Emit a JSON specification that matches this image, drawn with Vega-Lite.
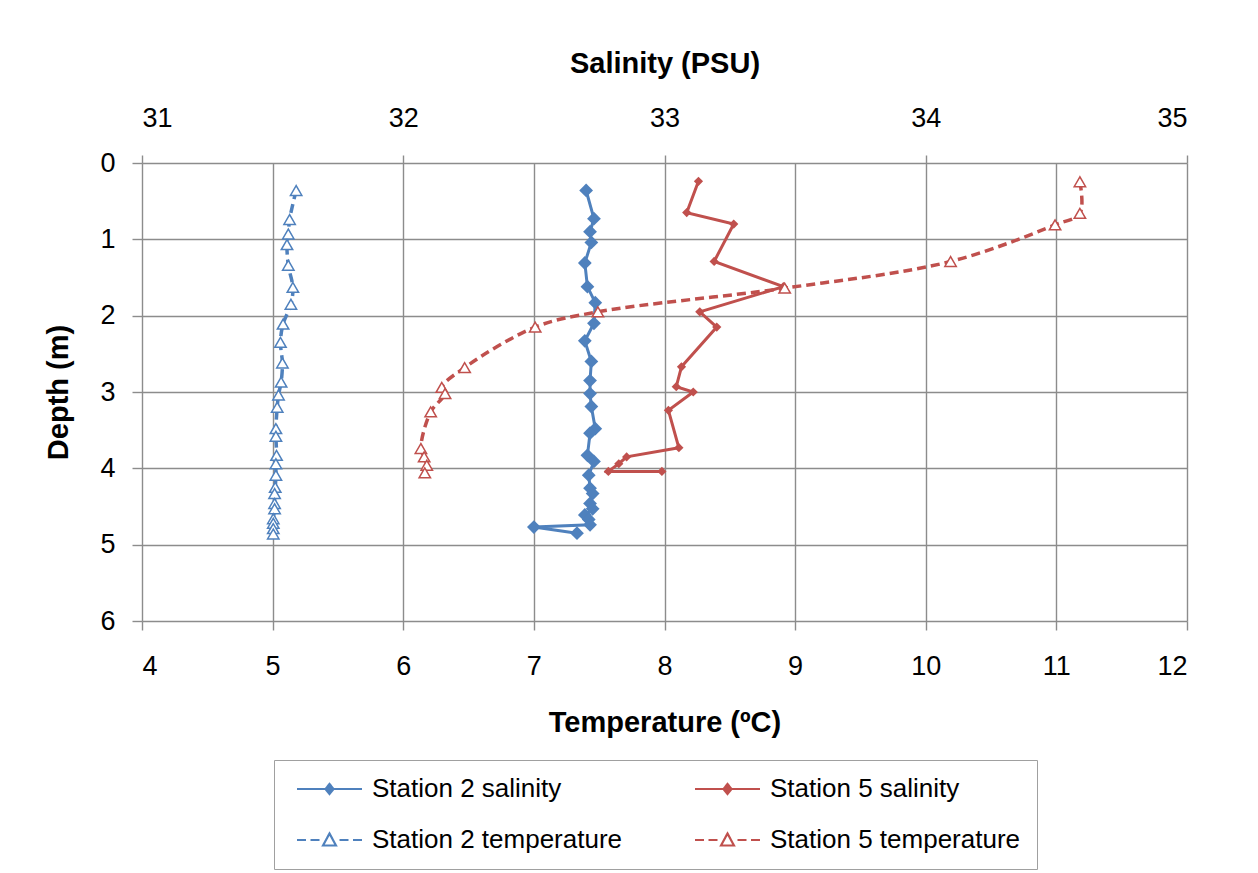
{
  "$schema": "https://vega.github.io/schema/vega-lite/v6.json",
  "width": 1045,
  "height": 458,
  "autosize": {"type": "none"},
  "padding": {"left": 142, "top": 163, "right": 71, "bottom": 252},
  "background": "white",
  "config": {
    "view": {"stroke": null},
    "font": "Liberation Sans",
    "axis": {
      "labelFont": "Liberation Sans",
      "labelColor": "black",
      "labelFontSize": 27,
      "titleFont": "Liberation Sans",
      "titleColor": "black",
      "titleFontSize": 29,
      "titleFontWeight": "bold",
      "gridColor": "#8c8c8c",
      "gridWidth": 1.4,
      "tickColor": "#8c8c8c",
      "tickWidth": 1.4,
      "domain": false
    },
    "legend": {
      "labelFont": "Liberation Sans",
      "labelFontSize": 26,
      "labelColor": "black",
      "labelLimit": 500
    }
  },
  "data": {
    "values": [
      {"series": "Station 2 salinity", "i": 1, "depth": 0.36, "value": 32.70},
      {"series": "Station 2 salinity", "i": 2, "depth": 0.73, "value": 32.73},
      {"series": "Station 2 salinity", "i": 3, "depth": 0.90, "value": 32.715},
      {"series": "Station 2 salinity", "i": 4, "depth": 1.04, "value": 32.72},
      {"series": "Station 2 salinity", "i": 5, "depth": 1.31, "value": 32.695},
      {"series": "Station 2 salinity", "i": 6, "depth": 1.62, "value": 32.705},
      {"series": "Station 2 salinity", "i": 7, "depth": 1.83, "value": 32.735},
      {"series": "Station 2 salinity", "i": 8, "depth": 2.10, "value": 32.73},
      {"series": "Station 2 salinity", "i": 9, "depth": 2.33, "value": 32.695},
      {"series": "Station 2 salinity", "i": 10, "depth": 2.60, "value": 32.72},
      {"series": "Station 2 salinity", "i": 11, "depth": 2.85, "value": 32.715},
      {"series": "Station 2 salinity", "i": 12, "depth": 3.02, "value": 32.715},
      {"series": "Station 2 salinity", "i": 13, "depth": 3.19, "value": 32.72},
      {"series": "Station 2 salinity", "i": 14, "depth": 3.48, "value": 32.735},
      {"series": "Station 2 salinity", "i": 15, "depth": 3.54, "value": 32.715},
      {"series": "Station 2 salinity", "i": 16, "depth": 3.83, "value": 32.705},
      {"series": "Station 2 salinity", "i": 17, "depth": 3.91, "value": 32.73},
      {"series": "Station 2 salinity", "i": 18, "depth": 4.09, "value": 32.71},
      {"series": "Station 2 salinity", "i": 19, "depth": 4.26, "value": 32.715},
      {"series": "Station 2 salinity", "i": 20, "depth": 4.33, "value": 32.725},
      {"series": "Station 2 salinity", "i": 21, "depth": 4.46, "value": 32.715},
      {"series": "Station 2 salinity", "i": 22, "depth": 4.53, "value": 32.725},
      {"series": "Station 2 salinity", "i": 23, "depth": 4.61, "value": 32.695},
      {"series": "Station 2 salinity", "i": 24, "depth": 4.67, "value": 32.71},
      {"series": "Station 2 salinity", "i": 25, "depth": 4.74, "value": 32.715},
      {"series": "Station 2 salinity", "i": 26, "depth": 4.77, "value": 32.50},
      {"series": "Station 2 salinity", "i": 27, "depth": 4.85, "value": 32.665},
      {"series": "Station 5 salinity", "i": 1, "depth": 0.24, "value": 33.13},
      {"series": "Station 5 salinity", "i": 2, "depth": 0.65, "value": 33.085},
      {"series": "Station 5 salinity", "i": 3, "depth": 0.80, "value": 33.265},
      {"series": "Station 5 salinity", "i": 4, "depth": 1.29, "value": 33.19},
      {"series": "Station 5 salinity", "i": 5, "depth": 1.62, "value": 33.455},
      {"series": "Station 5 salinity", "i": 6, "depth": 1.95, "value": 33.135},
      {"series": "Station 5 salinity", "i": 7, "depth": 2.15, "value": 33.20},
      {"series": "Station 5 salinity", "i": 8, "depth": 2.67, "value": 33.065},
      {"series": "Station 5 salinity", "i": 9, "depth": 2.93, "value": 33.045},
      {"series": "Station 5 salinity", "i": 10, "depth": 3.00, "value": 33.11},
      {"series": "Station 5 salinity", "i": 11, "depth": 3.24, "value": 33.015},
      {"series": "Station 5 salinity", "i": 12, "depth": 3.73, "value": 33.055},
      {"series": "Station 5 salinity", "i": 13, "depth": 3.85, "value": 32.855},
      {"series": "Station 5 salinity", "i": 14, "depth": 3.94, "value": 32.825},
      {"series": "Station 5 salinity", "i": 15, "depth": 4.04, "value": 32.785},
      {"series": "Station 5 salinity", "i": 16, "depth": 4.04, "value": 32.99},
      {"series": "Station 2 temperature", "i": 1, "depth": 0.36, "value": 5.18},
      {"series": "Station 2 temperature", "i": 2, "depth": 0.74, "value": 5.13},
      {"series": "Station 2 temperature", "i": 3, "depth": 0.93, "value": 5.12},
      {"series": "Station 2 temperature", "i": 4, "depth": 1.07, "value": 5.11},
      {"series": "Station 2 temperature", "i": 5, "depth": 1.34, "value": 5.12},
      {"series": "Station 2 temperature", "i": 6, "depth": 1.63, "value": 5.155},
      {"series": "Station 2 temperature", "i": 7, "depth": 1.85, "value": 5.14},
      {"series": "Station 2 temperature", "i": 8, "depth": 2.11, "value": 5.08},
      {"series": "Station 2 temperature", "i": 9, "depth": 2.35, "value": 5.06},
      {"series": "Station 2 temperature", "i": 10, "depth": 2.62, "value": 5.075},
      {"series": "Station 2 temperature", "i": 11, "depth": 2.87, "value": 5.065},
      {"series": "Station 2 temperature", "i": 12, "depth": 3.04, "value": 5.045},
      {"series": "Station 2 temperature", "i": 13, "depth": 3.20, "value": 5.035},
      {"series": "Station 2 temperature", "i": 14, "depth": 3.48, "value": 5.025},
      {"series": "Station 2 temperature", "i": 15, "depth": 3.58, "value": 5.025},
      {"series": "Station 2 temperature", "i": 16, "depth": 3.83, "value": 5.03},
      {"series": "Station 2 temperature", "i": 17, "depth": 3.94, "value": 5.025},
      {"series": "Station 2 temperature", "i": 18, "depth": 4.09, "value": 5.025},
      {"series": "Station 2 temperature", "i": 19, "depth": 4.25, "value": 5.02},
      {"series": "Station 2 temperature", "i": 20, "depth": 4.33, "value": 5.015},
      {"series": "Station 2 temperature", "i": 21, "depth": 4.46, "value": 5.015},
      {"series": "Station 2 temperature", "i": 22, "depth": 4.53, "value": 5.015},
      {"series": "Station 2 temperature", "i": 23, "depth": 4.66, "value": 5.005},
      {"series": "Station 2 temperature", "i": 24, "depth": 4.72, "value": 5.005},
      {"series": "Station 2 temperature", "i": 25, "depth": 4.79, "value": 5.005},
      {"series": "Station 2 temperature", "i": 26, "depth": 4.86, "value": 5.005},
      {"series": "Station 5 temperature", "i": 1, "depth": 0.245, "value": 11.18},
      {"series": "Station 5 temperature", "i": 2, "depth": 0.66, "value": 11.18},
      {"series": "Station 5 temperature", "i": 3, "depth": 0.81, "value": 10.99},
      {"series": "Station 5 temperature", "i": 4, "depth": 1.29, "value": 10.19},
      {"series": "Station 5 temperature", "i": 5, "depth": 1.64, "value": 8.92},
      {"series": "Station 5 temperature", "i": 6, "depth": 1.95, "value": 7.49},
      {"series": "Station 5 temperature", "i": 7, "depth": 2.15, "value": 7.01},
      {"series": "Station 5 temperature", "i": 8, "depth": 2.68, "value": 6.47},
      {"series": "Station 5 temperature", "i": 9, "depth": 2.94, "value": 6.295},
      {"series": "Station 5 temperature", "i": 10, "depth": 3.02, "value": 6.32},
      {"series": "Station 5 temperature", "i": 11, "depth": 3.26, "value": 6.21},
      {"series": "Station 5 temperature", "i": 12, "depth": 3.74, "value": 6.135},
      {"series": "Station 5 temperature", "i": 13, "depth": 3.85, "value": 6.16},
      {"series": "Station 5 temperature", "i": 14, "depth": 3.96, "value": 6.18},
      {"series": "Station 5 temperature", "i": 15, "depth": 4.06, "value": 6.165}
    ]
  },
  "encoding": {
    "y": {
      "field": "depth",
      "type": "quantitative",
      "scale": {"domain": [0, 6], "reverse": true, "nice": false, "zero": false},
      "axis": {
        "values": [0, 1, 2, 3, 4, 5, 6],
        "grid": true,
        "tickSize": 10,
        "labelPadding": 17,
        "title": "Depth (m)",
        "titlePadding": 26
      }
    }
  },
  "layer": [
    {
      "transform": [{"filter": "indexof(datum.series, 'salinity') >= 0"}],
      "encoding": {
        "x": {
          "field": "value",
          "type": "quantitative",
          "scale": {"domain": [31, 35], "nice": false, "zero": false},
          "axis": {
            "orient": "top",
            "values": [31, 32, 33, 34, 35],
            "grid": false,
            "tickSize": 8,
            "labelPadding": 23,
            "title": "Salinity (PSU)",
            "titlePadding": 26
          }
        },
        "order": {"field": "i", "type": "quantitative"}
      },
      "layer": [
        {
          "mark": {"type": "line", "strokeWidth": 3},
          "encoding": {
            "color": {
              "field": "series",
              "type": "nominal",
              "scale": {
                "domain": ["Station 2 salinity", "Station 5 salinity", "Station 2 temperature", "Station 5 temperature"],
                "range": ["#4F81BD", "#C0504D", "#4F81BD", "#C0504D"]
              },
              "legend": {
                "title": null,
                "orient": "none",
                "direction": "horizontal",
                "legendX": 132,
                "legendY": 597,
                "columns": 2,
                "padding": 16,
                "strokeColor": "#a0a0a0",
                "symbolSize": 100,
                "symbolStrokeWidth": 2.2,
                "labelOffset": 56,
                "columnPadding": 65,
                "rowPadding": 25,
                "encode": {
                  "symbols": {
                    "update": {
                      "shape": {"signal": "indexof(datum.value, 'temperature') >= 0 ? 'M-1.2,0H0.6M1.5,0H3.3M7.3,0H9.1M10,0H11.8M5.3,-1.3L6.6,1.1L4,1.1Z' : 'M-1.2,0H11.8M5.3,-1L6.1,0L5.3,1L4.5,0Z'"},
                      "fill": {"signal": "indexof(datum.value, 'temperature') >= 0 ? 'white' : (indexof(datum.value, 'Station 2') >= 0 ? '#4F81BD' : '#C0504D')"},
                      "fillOpacity": {"signal": "indexof(datum.value, 'temperature') >= 0 ? 0 : 1"},
                      "stroke": {"signal": "indexof(datum.value, 'Station 2') >= 0 ? '#4F81BD' : '#C0504D'"},
                      "strokeDash": {"value": [1, 0]},
                      "opacity": {"value": 1},
                      "strokeWidth": {"value": 2.2}
                    }
                  }
                }
              }
            }
          }
        },
        {
          "mark": {"type": "point", "shape": "diamond", "filled": true, "opacity": 1},
          "encoding": {
            "color": {"field": "series", "type": "nominal"},
            "size": {
              "field": "series",
              "type": "nominal",
              "scale": {"domain": ["Station 2 salinity", "Station 5 salinity"], "range": [190, 85]},
              "legend": null
            }
          }
        }
      ]
    },
    {
      "transform": [{"filter": "indexof(datum.series, 'temperature') >= 0"}],
      "encoding": {
        "x": {
          "field": "value",
          "type": "quantitative",
          "scale": {"domain": [4, 12], "nice": false, "zero": false},
          "axis": {
            "orient": "bottom",
            "values": [4, 5, 6, 7, 8, 9, 10, 11, 12],
            "grid": true,
            "tickSize": 9,
            "labelPadding": 23,
            "title": "Temperature (ºC)",
            "titlePadding": 29
          }
        },
        "order": {"field": "i", "type": "quantitative"}
      },
      "layer": [
        {
          "mark": {"type": "line", "strokeWidth": 3.5, "strokeDash": [9, 5], "interpolate": "catmull-rom"},
          "encoding": {"color": {"field": "series", "type": "nominal"}}
        },
        {
          "mark": {"type": "point", "shape": "triangle-up", "filled": false, "fill": "white", "fillOpacity": 1, "strokeWidth": 1.5, "size": 130, "opacity": 1},
          "encoding": {"color": {"field": "series", "type": "nominal"}}
        }
      ]
    }
  ],
  "resolve": {"scale": {"x": "independent"}, "axis": {"x": "independent"}}
}
